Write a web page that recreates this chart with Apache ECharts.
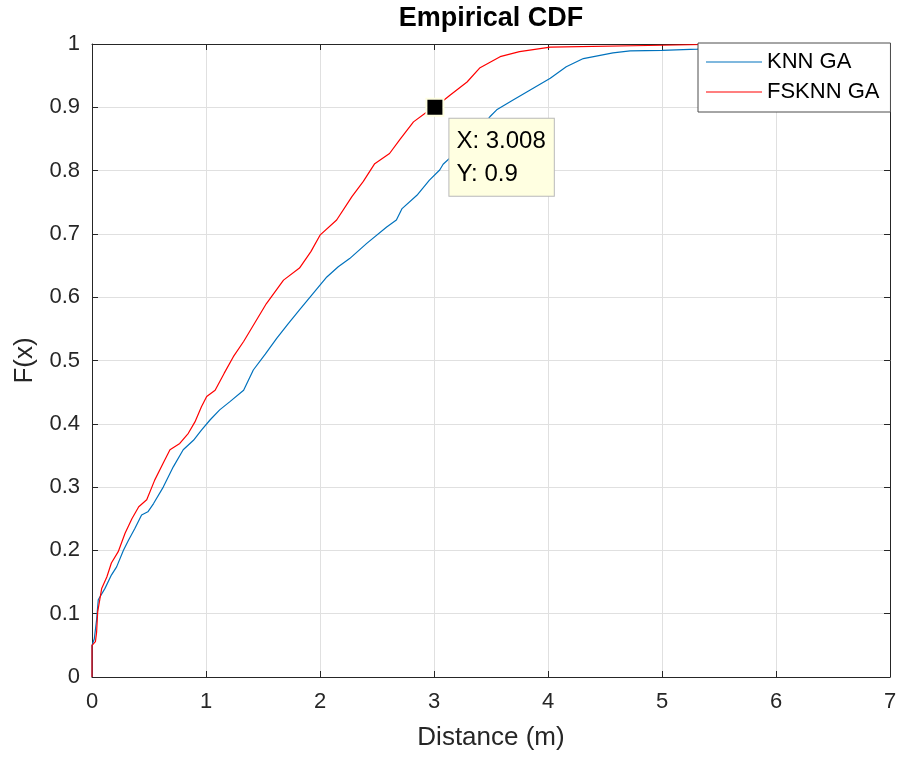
<!DOCTYPE html>
<html>
<head>
<meta charset="utf-8">
<script src="https://cdn.jsdelivr.net/npm/echarts@6/dist/echarts.min.js"></script>
<style>html,body{margin:0;padding:0;background:#fff}#c{width:900px;height:757px}</style>
</head>
<body>
<div id="c"></div>
<script>
// ---- data ----
const seriesNames = ['KNN GA', 'FSKNN GA'];
const knnX = [0, 0, 0.02, 0.04, 0.055, 0.114, 0.17, 0.216, 0.275, 0.32, 0.377, 0.435, 0.49, 0.54, 0.625, 0.713, 0.8, 0.89, 0.96, 1.035, 1.12, 1.21, 1.33, 1.415, 1.52, 1.62, 1.72, 1.82, 1.94, 2.06, 2.16, 2.26, 2.41, 2.585, 2.67, 2.72, 2.85, 2.96, 3.05, 3.08, 3.2, 3.35, 3.49, 3.55, 3.69, 3.84, 4.02, 4.16, 4.31, 4.57, 4.72, 5.0, 5.31, 5.7, 6.1];
const knnY = [0, 0.05, 0.06, 0.09, 0.122, 0.14, 0.161, 0.174, 0.2, 0.216, 0.235, 0.256, 0.261, 0.274, 0.3, 0.332, 0.359, 0.374, 0.39, 0.406, 0.422, 0.435, 0.453, 0.485, 0.51, 0.535, 0.558, 0.58, 0.606, 0.632, 0.648, 0.661, 0.685, 0.711, 0.722, 0.74, 0.761, 0.785, 0.801, 0.81, 0.83, 0.855, 0.885, 0.896, 0.911, 0.927, 0.946, 0.964, 0.977, 0.986, 0.989, 0.99, 0.992, 0.995, 1.0];
const fsX = [0, 0, 0.03, 0.04, 0.05, 0.085, 0.13, 0.17, 0.23, 0.29, 0.35, 0.41, 0.48, 0.55, 0.625, 0.684, 0.77, 0.845, 0.903, 0.96, 1.006, 1.08, 1.16, 1.24, 1.33, 1.43, 1.53, 1.68, 1.82, 1.92, 2.0, 2.146, 2.28, 2.38, 2.48, 2.61, 2.7, 2.82, 2.94, 3.008, 3.14, 3.29, 3.4, 3.58, 3.75, 4.02, 5.0, 5.6];
const fsY = [0, 0.05, 0.056, 0.07, 0.103, 0.14, 0.158, 0.18, 0.198, 0.227, 0.25, 0.269, 0.28, 0.311, 0.338, 0.359, 0.369, 0.385, 0.403, 0.427, 0.443, 0.453, 0.48, 0.506, 0.53, 0.56, 0.59, 0.627, 0.646, 0.672, 0.698, 0.722, 0.759, 0.783, 0.811, 0.827, 0.849, 0.877, 0.893, 0.9, 0.919, 0.94, 0.962, 0.98, 0.988, 0.995, 0.998, 1.0];
const tipX = 3.008;
const tipY = 0.9;
const xTicks = [0, 1, 2, 3, 4, 5, 6, 7];
const yTicks = [0, 0.1, 0.2, 0.3, 0.4, 0.5, 0.6, 0.7, 0.8, 0.9, 1];

const pairs = (xs, ys) => xs.map((x, i) => [x, ys[i]]);
const FONT = 'Liberation Sans, Arial, sans-serif';
const AX = '#262626';

const chart = echarts.init(document.getElementById('c'), null, {renderer: 'canvas'});
const baseX = {
  type: 'value', min: xTicks[0], max: xTicks[xTicks.length - 1], interval: 1,
  axisLine: {show: true, onZero: false, lineStyle: {color: AX, width: 1}},
  axisTick: {show: true, inside: true, length: 6, lineStyle: {color: AX}},
  splitLine: {show: false}
};
const baseY = {
  type: 'value', min: yTicks[0], max: yTicks[yTicks.length - 1], interval: 0.1,
  axisLine: {show: true, onZero: false, lineStyle: {color: AX, width: 1}},
  axisTick: {show: true, inside: true, length: 6, lineStyle: {color: AX}},
  splitLine: {show: false}
};
chart.setOption({
  animation: false,
  backgroundColor: '#ffffff',
  grid: {left: 92, right: 10, top: 44, bottom: 80, containLabel: false},
  legend: {
    data: seriesNames,
    orient: 'vertical',
    left: 698, top: 43,
    icon: 'rect', itemWidth: 56, itemHeight: 1, itemGap: 8,
    padding: [8, 11, 9, 8],
    backgroundColor: '#ffffff', borderColor: '#4d4d4d', borderWidth: 1, borderRadius: 0,
    textStyle: {fontFamily: FONT, fontSize: 22, color: '#000', padding: [0, 0, 0, 0]},
    z: 10
  },
  xAxis: [
    Object.assign({}, baseX, {
      position: 'bottom',
      name: 'Distance (m)', nameLocation: 'middle', nameGap: 48,
      nameTextStyle: {fontFamily: FONT, fontSize: 26, color: AX},
      axisLabel: {show: true, margin: 14, fontFamily: FONT, fontSize: 22, color: AX},
      splitLine: {show: true, lineStyle: {color: '#e0e0e0', width: 1}}
    }),
    Object.assign({}, baseX, {
      position: 'top',
      name: 'Empirical CDF', nameLocation: 'middle', nameGap: 12,
      nameTextStyle: {fontFamily: FONT, fontSize: 27, fontWeight: 'bold', color: '#000'},
      axisLabel: {show: false}
    })
  ],
  yAxis: [
    Object.assign({}, baseY, {
      position: 'left',
      name: 'F(x)', nameLocation: 'middle', nameGap: 54,
      nameTextStyle: {fontFamily: FONT, fontSize: 26, color: AX},
      axisLabel: {show: true, margin: 12, fontFamily: FONT, fontSize: 22, color: AX},
      splitLine: {show: true, lineStyle: {color: '#e0e0e0', width: 1}}
    }),
    Object.assign({}, baseY, {position: 'right', axisLabel: {show: false}})
  ],
  series: [
    {
      name: seriesNames[0], type: 'line', data: pairs(knnX, knnY),
      showSymbol: false, symbol: 'none', smooth: false,
      lineStyle: {color: '#0072BD', width: 1.2}, itemStyle: {color: '#0072BD'}, z: 2
    },
    {
      name: seriesNames[1], type: 'line', data: pairs(fsX, fsY),
      showSymbol: false, symbol: 'none', smooth: false,
      lineStyle: {color: '#FF0000', width: 1.2}, itemStyle: {color: '#FF0000'}, z: 3,
      markPoint: {
        symbol: 'rect', symbolSize: 17,
        itemStyle: {color: '#000000', borderColor: '#ffffe1', borderWidth: 2},
        label: {
          show: true, position: [24, 21], align: 'left', verticalAlign: 'top',
          formatter: 'X: ' + tipX + '\nY: ' + tipY,
          fontFamily: FONT, fontSize: 24, lineHeight: 33, color: '#000',
          backgroundColor: '#ffffe1', borderColor: '#b9b9b9', borderWidth: 1,
          padding: [6, 8, 5, 7]
        },
        data: [{coord: [tipX, tipY]}]
      }
    }
  ]
});
</script>
</body>
</html>
